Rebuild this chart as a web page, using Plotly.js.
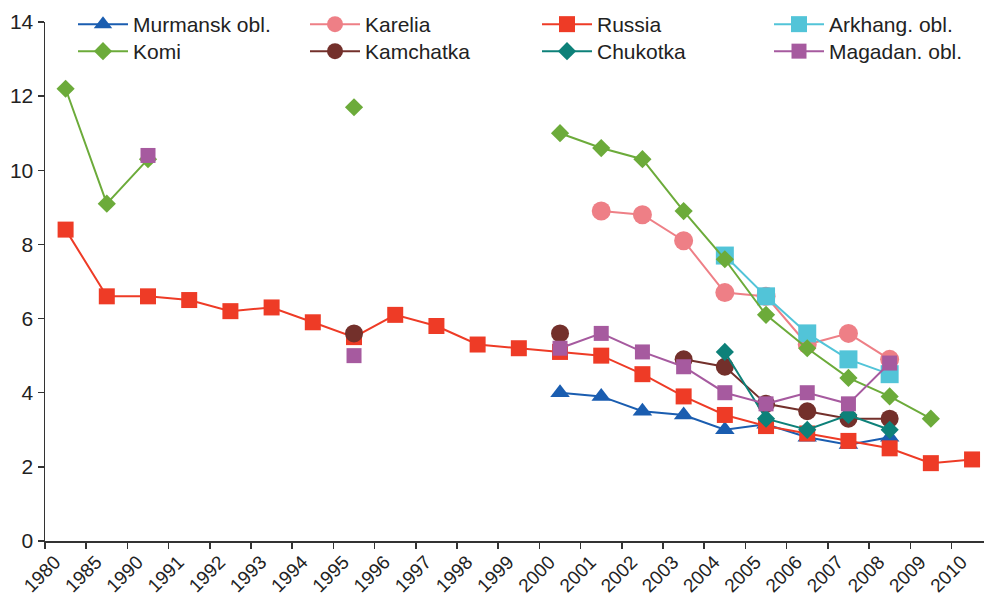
<!DOCTYPE html>
<html>
<head>
<meta charset="utf-8">
<script src="https://cdn.plot.ly/plotly-3.0.1.min.js"></script>
<style>html,body{margin:0;padding:0;background:#fff;}#chart{width:984px;height:593px;}</style>
</head>
<body>
<div id="chart"></div>
<script>
// Category labels (tick marks sit at the left edge of each category slot)
const categories = ['1980','1985','1990','1991','1992','1993','1994','1995','1996','1997','1998','1999',
  '2000','2001','2002','2003','2004','2005','2006','2007','2008','2009','2010'];

const N = null;
const murmansk  = [N,N,N,N,N,N,N,N,N,N,N,N, 4.0,3.9,3.5,3.4,3.0,3.15,2.8,2.6,2.8,N,N];
const karelia   = [N,N,N,N,N,N,N,N,N,N,N,N, N,8.9,8.8,8.1,6.7,6.6,5.3,5.6,4.9,N,N];
const russia    = [8.4,6.6,6.6,6.5,6.2,6.3,5.9,5.5,6.1,5.8,5.3,5.2, 5.1,5.0,4.5,3.9,3.4,3.1,2.9,2.7,2.5,2.1,2.2];
const arkhang   = [N,N,N,N,N,N,N,N,N,N,N,N, N,N,N,N,7.7,6.6,5.6,4.9,4.5,N,N];
const komi      = [12.2,9.1,10.3,N,N,N,N,11.7,N,N,N,N, 11.0,10.6,10.3,8.9,7.6,6.1,5.2,4.4,3.9,3.3,N];
const kamchatka = [N,N,N,N,N,N,N,5.6,N,N,N,N, 5.6,N,N,4.9,4.7,3.7,3.5,3.3,3.3,N,N];
const chukotka  = [N,N,N,N,N,N,N,N,N,N,N,N, N,N,N,N,5.1,3.3,3.0,3.4,3.0,N,N];
const magadan   = [N,N,10.4,N,N,N,N,5.0,N,N,N,N, 5.2,5.6,5.1,4.7,4.0,3.7,4.0,3.7,4.8,N,N];

const yTicks = [0,2,4,6,8,10,12,14];

const tickPos = categories.map((c,i)=>i);
const xPos = categories.map((c,i)=>i+0.5);

function tr(name, y, color, symbol, size, leg){
  return {type:'scatter', mode:'lines+markers', name:name, x:xPos, y:y,
    line:{color:color, width:2}, marker:{color:color, symbol:symbol, size:size},
    connectgaps:false, legend:leg};
}

const data = [
  tr('Murmansk obl.', murmansk, '#1a5db0', 'triangle-up', 17, 'legend'),
  tr('Karelia', karelia, '#ee7f86', 'circle', 19, 'legend'),
  tr('Russia', russia, '#ee3b26', 'square', 16, 'legend'),
  tr('Arkhang. obl.', arkhang, '#52c4d8', 'square', 18, 'legend'),
  tr('Komi', komi, '#6cab3a', 'diamond', 14, 'legend2'),
  tr('Kamchatka', kamchatka, '#73302b', 'circle', 18, 'legend2'),
  tr('Chukotka', chukotka, '#0d8179', 'diamond', 14, 'legend2'),
  tr('Magadan. obl.', magadan, '#a65a9f', 'square', 15, 'legend2')
];

const legBase = {orientation:'h', xref:'paper', x:(79-45-6)/939, yref:'container', yanchor:'top', xanchor:'left',
    entrywidth:167, entrywidthmode:'pixels', itemwidth:50, font:{size:21, color:'#222'},
    bgcolor:'rgba(0,0,0,0)', traceorder:'normal', borderwidth:0};

const layout = {
  width:984, height:593,
  margin:{l:45, r:0, t:22, b:52, autoexpand:false},
  paper_bgcolor:'#fff', plot_bgcolor:'#fff',
  font:{family:'Liberation Sans, Arial, sans-serif', size:21, color:'#222'},
  showlegend:true,
  legend:Object.assign({}, legBase, {y:1-4/593}),
  legend2:Object.assign({}, legBase, {y:1-31/593}),
  xaxis:{range:[0,22.79], tickmode:'array', tickvals:tickPos, ticktext:categories, tickangle:-45,
    showgrid:false, zeroline:false, showline:true, linecolor:'#333', linewidth:1.5,
    ticks:'outside', ticklen:6, tickcolor:'#333', tickwidth:1.5, tickfont:{size:19, color:'#222'},
    ticklabelshift:10, ticklabelstandoff:-5, automargin:false, fixedrange:true},
  yaxis:{range:[0,14], tickmode:'array', tickvals:yTicks, showgrid:false, zeroline:false, showline:true,
    linecolor:'#333', linewidth:1.5, ticks:'outside', ticklen:6, tickcolor:'#333', tickwidth:1.5,
    tickfont:{size:21, color:'#222'}, automargin:false, fixedrange:true}
};

Plotly.newPlot('chart', data, layout, {displayModeBar:false, staticPlot:true});
</script>
</body>
</html>
